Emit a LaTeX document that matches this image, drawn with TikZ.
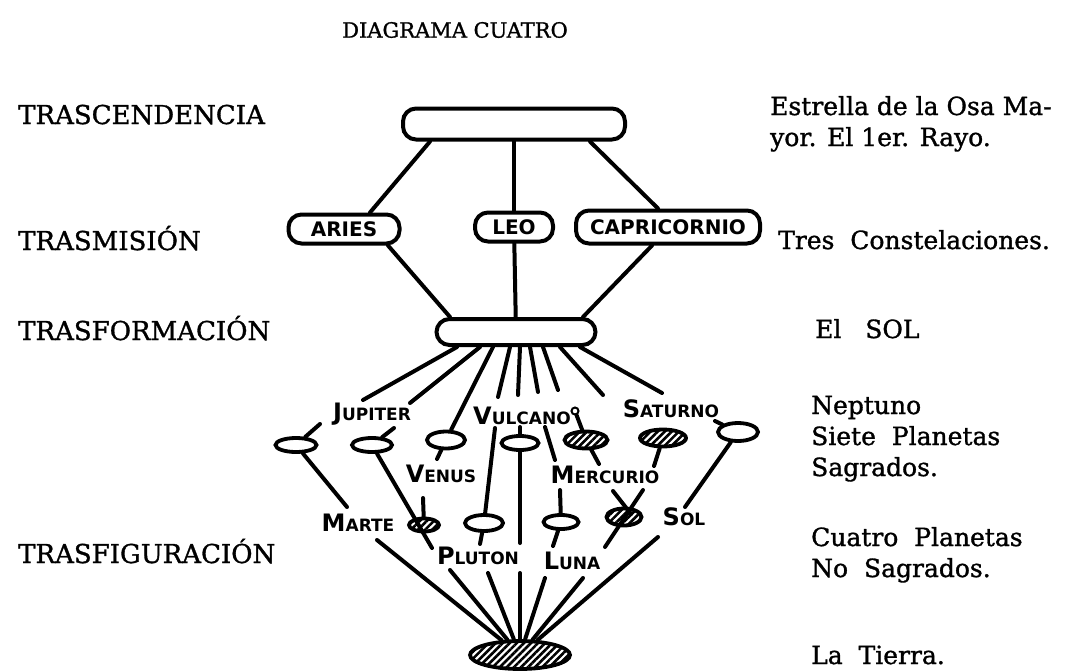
\documentclass[tikz,border=0pt]{standalone}
\usepackage{fontspec}
\setmainfont{DejaVu Serif}[FakeBold=1.2]
\newfontfamily\handfont{DejaVu Sans}
\usetikzlibrary{shapes.geometric,patterns.meta}
\newcommand\plname[2]{{\fontsize{24}{24}\selectfont #1}#2}
\begin{document}
\begin{tikzpicture}
  [x=1pt,y=-1pt,
   box/.style={draw,rectangle,rounded corners=13pt,line width=4pt,inner sep=0pt,
     font=\handfont\bfseries\fontsize{20}{20}\selectfont},
   planet/.style={draw,ellipse,line width=3.8pt,inner sep=0pt},
   hatched/.style={planet,pattern={Lines[angle=45,distance=5pt,line width=2.6pt]}},
   plabel/.style={inner sep=0pt,font=\handfont\bfseries\fontsize{17}{17}\selectfont},
   level/.style={anchor=base west,inner sep=0pt,font=\fontsize{26}{26}\selectfont},
   note/.style={anchor=base west,inner sep=0pt,font=\fontsize{25}{25}\selectfont},
   wire/.style={line width=4pt,line cap=round}]
  \useasboundingbox (0,0) rectangle (1071,672);
  \node[inner sep=0pt,font=\fontsize{21}{21}\selectfont] (title) at (455,30) {DIAGRAMA CUATRO};
  \node[level] (lv1) at (18,124) {TRASCENDENCIA};
  \node[level] (lv2) at (18,250) {TRASMISIÓN};
  \node[level] (lv3) at (18,340) {TRASFORMACIÓN};
  \node[level] (lv4) at (18,563) {TRASFIGURACIÓN};
  \node[note] (nt1) at (770,115) {Estrella de la Osa Ma-};
  \node[note] (nt2) at (770,146) {yor. El 1er. Rayo.};
  \node[note] (nt3) at (778,249) {Tres \ Constelaciones.};
  \node[note] (nt4) at (815,338) {El \ \ SOL};
  \node[note] (nt5) at (811,414) {Neptuno};
  \node[note] (nt6) at (811,445) {Siete \ Planetas};
  \node[note] (nt7) at (811,476) {Sagrados.};
  \node[note] (nt8) at (811,546) {Cuatro \ Planetas};
  \node[note] (nt9) at (811,577) {No \ Sagrados.};
  \node[note] (nt10) at (811,664) {La \ Tierra.};
  \node[box,minimum width=222pt,minimum height=31pt] (trasc) at (514,124) {};
  \node[box,minimum width=111pt,minimum height=29pt] (aries) at (344,229) {ARIES};
  \node[box,minimum width=78pt,minimum height=29pt] (leo) at (514,227) {LEO};
  \node[box,minimum width=184pt,minimum height=33pt] (capri) at (668,227) {CAPRICORNIO};
  \node[box,minimum width=159pt,minimum height=26pt] (trasf) at (516,332) {};
  \node[planet,minimum width=41pt,minimum height=14pt] (o1) at (296,445) {};
  \node[planet,minimum width=40pt,minimum height=14pt] (o2) at (372,445) {};
  \node[planet,minimum width=38pt,minimum height=17pt] (o3) at (446,440) {};
  \node[planet,minimum width=37pt,minimum height=14pt] (o4) at (520,443) {};
  \node[hatched,minimum width=43pt,minimum height=17pt] (o5) at (586,440) {};
  \node[hatched,minimum width=46pt,minimum height=17pt] (o6) at (663,438) {};
  \node[planet,minimum width=40pt,minimum height=18pt] (o7) at (738,432) {};
  \node[hatched,minimum width=30pt,minimum height=13pt] (o8) at (424,525) {};
  \node[planet,minimum width=38pt,minimum height=16pt] (o9) at (484,523) {};
  \node[planet,minimum width=35pt,minimum height=14pt] (o10) at (561,522) {};
  \node[hatched,minimum width=35pt,minimum height=17pt] (o11) at (624,517) {};
  \node[hatched,minimum width=100pt,minimum height=28pt] (earth) at (520,655) {};
  \node[circle,draw,line width=2pt,minimum size=7pt,inner sep=0pt] (knob) at (575,411) {};
  \node[plabel] (jupiter) at (372,414) {\plname{J}{UPITER}};
  \node[plabel] (vulcano) at (522,416) {\plname{V}{ULCANO}};
  \node[plabel] (saturno) at (671,409) {\plname{S}{ATURNO}};
  \node[plabel] (venus) at (441,474) {\plname{V}{ENUS}};
  \node[plabel] (mercurio) at (605,475) {\plname{M}{ERCURIO}};
  \node[plabel] (marte) at (358,523) {\plname{M}{ARTE}};
  \node[plabel] (pluton) at (478,556) {\plname{P}{LUTON}};
  \node[plabel] (luna) at (572,561) {\plname{L}{UNA}};
  \node[plabel] (sol) at (684,517) {\plname{S}{OL}};
  \foreach \n/\dx in {f1/-59,f2/-36,f3/-23,f4/-6,f5/4,f6/14,f7/27,f8/44,f9/64}
    \coordinate (\n) at ([xshift=\dx pt]trasf.south);
  \foreach \n/\x/\y in {j1/363/400,j2/410/403,v1/498/397,v2/518/395,v3/538/392,
    v4/558/390,s1/603/395,s2/662/393,a1/320/424,a2/394/428,a3/437/459,a4/520/427,
    a5/520/543,a6/599/464,a7/654/466,a8/685/507,a9/715/421,a10/495/428,a11/545/427,
    a12/555/460,a13/560/490,a14/347/507,a15/432/548,a16/423/498,a17/480/544,
    a18/553/546,a19/613/491,a20/631/514,a21/643/490,a22/605/547,a23/377/540,
    a24/450/570,a25/488/573,a26/520/573,a27/545/578,a28/583/578,a29/658/537}
    \coordinate (\n) at (\x,\y);
  \draw[wire] ([xshift=-84pt]trasc.south) -- ([xshift=26pt]aries.north);
  \draw[wire] (trasc) -- (leo);
  \draw[wire] ([xshift=76pt]trasc.south) -- ([xshift=-10pt]capri.north);
  \draw[wire] ([xshift=44pt]aries.south) -- ([xshift=-66pt]trasf.north);
  \draw[wire] (leo) -- (trasf);
  \draw[wire] ([xshift=-16pt]capri.south) -- ([xshift=67pt]trasf.north);
  \foreach \from/\to in {f1/j1,f2/j2,f3/o3,f4/v1,f5/v2,f6/v3,f7/v4,f8/s1,f9/s2,
    o1/a1,o2/a2,o3/a3,o4/a4,o4/a5,knob/o5,o5/a6,o6/a7,o7/a8,a9/o7,
    a10/o9,a11/a12,a13/o10,o1/a14,o2/a15,a16/o8,o9/a17,o10/a18,a19/a20,a21/a22,
    a23/earth,a24/earth,a25/earth,a26/earth,a27/earth,a28/earth,a29/earth}
    \draw[wire] (\from) -- (\to);
\end{tikzpicture}
\end{document}
